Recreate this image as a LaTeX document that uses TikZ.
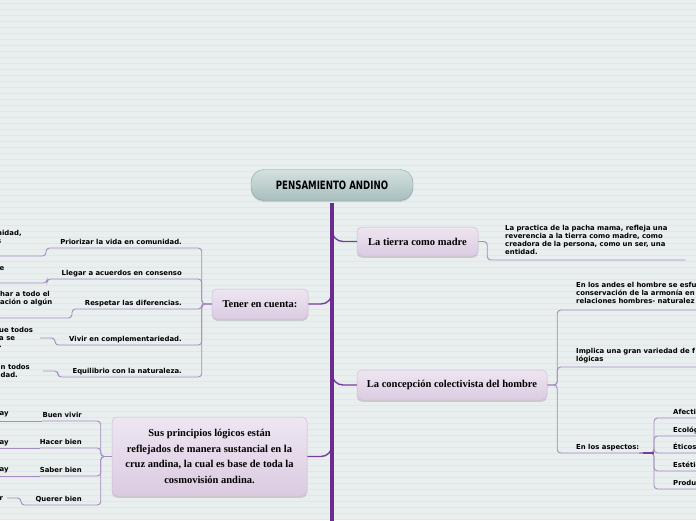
\documentclass[tikz,border=0pt]{standalone}
\usepackage{fontspec}
\usetikzlibrary{shadows}
\newfontfamily\leaffont{DejaVu Sans}
\newfontfamily\rootfont{DejaVu Sans}[FakeStretch=0.75]
\newfontfamily\topicfont{Liberation Serif}
\definecolor{paper}{HTML}{E8EFEE}
\definecolor{paperrule}{HTML}{DFE8E7}
\definecolor{trunkpurple}{HTML}{6A2D8F}
\definecolor{branchpurple}{HTML}{7A3C9C}
\definecolor{twigpurple}{HTML}{A58BBE}
\definecolor{topictop}{HTML}{EEE6F1}
\definecolor{topicbot}{HTML}{DBCBE2}
\definecolor{topicedge}{HTML}{CDBCD6}
\definecolor{roottop}{HTML}{D4E1E0}
\definecolor{rootbot}{HTML}{A8BEBD}
\definecolor{rootedge}{HTML}{86A2A1}
\begin{document}
\begin{tikzpicture}[x=1pt,y=-1pt,
  rootbox/.style={rounded corners=13pt, draw=rootedge, top color=roottop, bottom color=rootbot,
    minimum width=162pt, minimum height=31pt, inner sep=0pt,
    font=\rootfont\bfseries\fontsize{11.5}{12}\selectfont,
    drop shadow={shadow xshift=0pt, shadow yshift=-1.5pt, opacity=.25}},
  topic/.style={rounded corners=5pt, draw=topicedge, line width=.5pt, top color=topictop,
    bottom color=topicbot, inner sep=0pt, align=center,
    font=\topicfont\bfseries\fontsize{10.5}{15.5}\selectfont,
    drop shadow={shadow xshift=0pt, shadow yshift=-1.8pt, opacity=.3}},
  leaf/.style={inner xsep=0pt, inner ysep=3.5pt, text depth=0pt,
    font=\leaffont\bfseries\fontsize{6.9}{7.9}\selectfont},
  note/.style={inner xsep=0pt, align=left, font=\leaffont\bfseries\fontsize{6.9}{7.9}\selectfont},
  cut/.style={note, inner ysep=0pt, anchor=north west},
  trunkline/.style={draw=trunkpurple, line width=4.5pt},
  branch/.style={draw=branchpurple, line width=1.4pt, rounded corners=11pt},
  twig/.style={draw=twigpurple, line width=.9pt, rounded corners=3.5pt},
  stub/.style={draw=branchpurple, line width=1.6pt}]
\useasboundingbox (0,0) rectangle (696,520);
% Paper
\fill[paper] (0,0) rectangle (696,520);
\foreach \yy in {3,9,...,519}
  \draw[paperrule, line width=.5pt] (0,\yy) -- (696,\yy);
\clip (0,0) rectangle (696,520);
% Root and main topics
\node[rootbox] (root) at (332,185) {PENSAMIENTO ANDINO};
\node[topic, minimum width=121pt, minimum height=29pt] (madre) at (417.5,241.5) {La tierra como madre};
\node[topic, minimum width=96pt, minimum height=30pt] (tener) at (260,304) {Tener en cuenta:};
\node[topic, minimum width=190pt, minimum height=30pt] (concep) at (452,385) {La concepción colectivista del hombre};
\node[topic, minimum width=195pt, minimum height=79pt] (sus) at (209.5,456.5)
  {Sus principios lógicos están\\reflejados de manera sustancial en la\\cruz andina, la cual es base de toda la\\cosmovisión andina.};
% Branches off the trunk
\coordinate (j1) at (332,224);
\coordinate (j2) at (332,290);
\coordinate (j3) at (332,372);
\coordinate (j4) at (332,442);
\coordinate (trunkend) at (332,525);
\draw[branch] (j1) |- (madre.west);
\draw[branch] (j2) |- (tener.east);
\draw[branch] (j3) |- (concep.west);
\draw[branch] (j4) |- (sus.east);
\draw[trunkline, shorten <=2pt] (root.south) -- (trunkend);
% La tierra como madre
\node[note, anchor=south west, inner ysep=5.5pt, text width=180pt] (pacha) at (505,260)
  {La practica de la pacha mama, refleja una\\reverencia a la tierra como madre, como\\creadora de la persona, como un ser, una\\entidad.};
\draw[twig] (madre.east) -- ++(9,0) |- (pacha.south west) -- (pacha.south east);
% Tener en cuenta
\node[leaf, anchor=south east] (prior) at (182,248) {Priorizar la vida en comunidad.};
\node[leaf, anchor=south east] (acuer) at (182,279) {Llegar a acuerdos en consenso};
\node[leaf, anchor=south east] (difer) at (182,309) {Respetar las diferencias.};
\node[leaf, anchor=south east] (compl) at (182,345) {Vivir en complementariedad.};
\node[leaf, anchor=south east] (equil) at (182,377) {Equilibrio con la naturaleza.};
\foreach \leafname in {prior,acuer,difer,compl,equil}
  \draw[twig] (tener.west) -- ++(-10,0) |- (\leafname.south east) -- (\leafname.south west);
\node[cut] (comu) at (-3,229.7) {nidad,\\s};
\node[cut] (cons) at (-0.5,266) {e};
\node[cut] (acep) at (0,290.7) {har a todo el\\ación o algún};
\node[cut] (todos) at (-1,326.7) {ue todos\\a se\\.};
\node[cut] (natu) at (0.5,363.7) {n todos\\dad.};
\coordinate (k1) at (46,248);   \coordinate (e1) at (-2,256);
\coordinate (k2) at (47,279);   \coordinate (e2) at (-2,283);
\coordinate (k3) at (72,309);   \coordinate (e3) at (-2,318);
\coordinate (k4) at (55,345);   \coordinate (e4) at (40,338);
\coordinate (k5) at (58,377);   \coordinate (e5) at (43,371);
\draw[twig] (prior.south west) -- (k1) |- (e1);
\draw[twig] (acuer.south west) -- (k2) |- (e2);
\draw[twig] (difer.south west) -- (k3) |- (e3);
\draw[twig] (compl.south west) -- (k4) |- (e4);
\draw[twig] (equil.south west) -- (k5) |- (e5);
% La concepcion colectivista del hombre
\node[note, anchor=south west, inner ysep=6.5pt, text width=140pt] (andes) at (576,310)
  {En los andes el hombre se esfu\\conservación de la armonía en\\relaciones hombres- naturalez};
\node[note, anchor=south west, inner ysep=4pt, text width=140pt] (impl) at (576,367)
  {Implica una gran variedad de f\\lógicas};
\node[leaf, anchor=south west] (aspec) at (576,453) {En los aspectos:};
\foreach \leafname in {andes,impl,aspec}
  \draw[twig] (concep.east) -- ++(10,0) |- (\leafname.south west) -- (\leafname.south east);
\node[leaf, anchor=south west, text width=40pt] (afec) at (673,418) {Afectivos};
\node[leaf, anchor=south west, text width=40pt] (ecol) at (673,436) {Ecológicos};
\node[leaf, anchor=south west, text width=40pt] (etic) at (673,453) {Éticos};
\node[leaf, anchor=south west, text width=40pt] (estet) at (673,471) {Estéticos};
\node[leaf, anchor=south west, text width=40pt] (produ) at (673,489) {Productivos};
\coordinate (aspbus) at (654,453);
\foreach \leafname in {afec,ecol,etic,estet,produ}
  \draw[twig] (aspec.south east) -- (aspbus) |- (\leafname.south west) -- (\leafname.south east);
\draw[stub] (aspbus) -- ++(-11,0);
% Sus principios logicos
\node[leaf, anchor=south east] (buen) at (82,421) {Buen vivir};
\node[leaf, anchor=south east] (hacer) at (82,448) {Hacer bien};
\node[leaf, anchor=south east] (saber) at (82,476) {Saber bien};
\node[leaf, anchor=south east] (querer) at (82,505) {Querer bien};
\foreach \leafname in {buen,hacer,saber,querer}
  \draw[twig] (sus.west) -- ++(-11,0) |- (\leafname.south east) -- (\leafname.south west);
\node[cut] (kaw1) at (-0.5,411) {ay};
\node[cut] (kaw2) at (-0.5,440) {ay};
\node[cut] (kaw3) at (-0.5,467) {ay};
\node[cut] (kaw4) at (-0.5,496) {r};
\coordinate (e6) at (-2,421);
\coordinate (e7) at (-2,448);
\coordinate (e8) at (-2,476);
\coordinate (k9) at (21,505);   \coordinate (e9) at (7,498);
\draw[twig] (buen.south west) -- (e6);
\draw[twig] (hacer.south west) -- (e7);
\draw[twig] (saber.south west) -- (e8);
\draw[twig] (querer.south west) -- (k9) |- (e9);
\end{tikzpicture}
\end{document}
